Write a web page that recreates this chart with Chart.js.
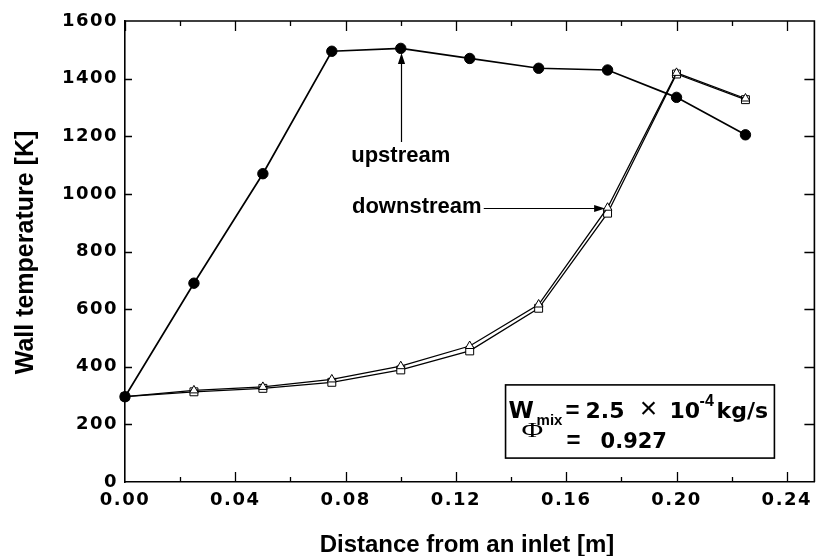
<!DOCTYPE html>
<html><head><meta charset="utf-8">
<script src="https://cdn.jsdelivr.net/npm/chart.js@4.4.0/dist/chart.umd.min.js"></script>
<style>html,body{margin:0;padding:0;background:#fff;overflow:hidden}#wrap{width:821px;height:556px}</style>
</head><body><div id="wrap"><canvas id="c" width="821" height="556"></canvas></div>
<script>
// ---- data ----
const distance = [0, 0.025, 0.05, 0.075, 0.1, 0.125, 0.15, 0.175, 0.2, 0.225];
const upstream = [296, 690, 1070, 1495, 1505, 1470, 1436, 1430, 1335, 1205];
const downstreamTri = [296, 318, 330, 356, 402, 472, 616, 952, 1420, 1331];
const downstreamSq = [296, 313, 325, 346, 389, 455, 603, 933, 1416, 1327];
const xTickValues = [0, 0.04, 0.08, 0.12, 0.16, 0.20, 0.24];
const xTickLabels = ['0.00', '0.04', '0.08', '0.12', '0.16', '0.20', '0.24'];
const yTickValues = [0, 200, 400, 600, 800, 1000, 1200, 1400, 1600];
const yTickLabels = ['0', '200', '400', '600', '800', '1000', '1200', '1400', '1600'];
const xMinorTicks = [0.02, 0.06, 0.10, 0.14, 0.18, 0.22];
const xTitle = 'Distance from an inlet [m]';
const yTitle = 'Wall temperature [K]';
// annotation anchors (data units)
const upLabel = {x: 0.1, y: 1111, text: 'upstream'};
const upArrow = {x: 0.1, y0: 1180, y1: 1489};
const downLabel = {x: 0.1293, y: 934, text: 'downstream'};
const downArrow = {y: 951, x0: 0.1301, x1: 0.1741};
const infoBox = {x0: 0.1380, x1: 0.2355, y0: 337, y1: 83};

const pts = ys => distance.map((x, i) => ({x, y: ys[i]}));
const SANS = '"Liberation Sans", Arial, Helvetica, sans-serif';
const WIDE = '"DejaVu Sans", "Liberation Sans", sans-serif';

function arrowHead(ctx, x, y, ang) {
  const L = 11, W = 3.6;
  ctx.beginPath();
  ctx.moveTo(x, y);
  ctx.lineTo(x - L * Math.cos(ang) + W * Math.sin(ang), y - L * Math.sin(ang) - W * Math.cos(ang));
  ctx.lineTo(x - L * Math.cos(ang) - W * Math.sin(ang), y - L * Math.sin(ang) + W * Math.cos(ang));
  ctx.closePath();
  ctx.fill();
}

const decor = {
  id: 'decor',
  beforeDraw(chart) { chart.ctx.letterSpacing = '1.5px'; },
  beforeDatasetsDraw(chart) { chart.ctx.letterSpacing = '0px'; },
  afterDraw(chart) {
    const ctx = chart.ctx, xs = chart.scales.x, ys = chart.scales.y, a = chart.chartArea;
    ctx.save();
    ctx.letterSpacing = '0px';
    ctx.strokeStyle = '#000'; ctx.fillStyle = '#000';
    ctx.lineWidth = 1.6;
    ctx.beginPath();
    ctx.moveTo(a.left, a.top); ctx.lineTo(a.right, a.top); ctx.lineTo(a.right, a.bottom);
    ctx.stroke();
    ctx.lineWidth = 1.3;
    ctx.beginPath();
    xTickValues.forEach(v => {
      const px = Math.round(xs.getPixelForValue(v)) + 0.5;
      if (v > 0) { ctx.moveTo(px, a.bottom); ctx.lineTo(px, a.bottom - 10); }
      ctx.moveTo(px, a.top); ctx.lineTo(px, a.top + 10);
    });
    xMinorTicks.forEach(v => {
      const px = Math.round(xs.getPixelForValue(v)) + 0.5;
      ctx.moveTo(px, a.bottom); ctx.lineTo(px, a.bottom - 5);
      ctx.moveTo(px, a.top); ctx.lineTo(px, a.top + 5);
    });
    yTickValues.forEach(v => {
      if (v === 0 || v === 1600) return;
      const py = Math.round(ys.getPixelForValue(v)) + 0.5;
      ctx.moveTo(a.left, py); ctx.lineTo(a.left + 7, py);
      ctx.moveTo(a.right, py); ctx.lineTo(a.right - 10, py);
    });
    ctx.stroke();

    // axis titles
    ctx.font = 'bold 24px ' + SANS;
    ctx.textAlign = 'center'; ctx.textBaseline = 'alphabetic';
    ctx.fillText(xTitle, 467, 552);
    ctx.save();
    ctx.translate(33, 252.5); ctx.rotate(-Math.PI / 2);
    ctx.font = 'bold 25px ' + SANS;
    ctx.fillText(yTitle, 0, 0);
    ctx.restore();

    // annotations
    ctx.font = 'bold 22px ' + SANS;
    ctx.textAlign = 'center';
    ctx.fillText(upLabel.text, xs.getPixelForValue(upLabel.x), ys.getPixelForValue(upLabel.y));
    ctx.textAlign = 'right';
    ctx.fillText(downLabel.text, xs.getPixelForValue(downLabel.x), ys.getPixelForValue(downLabel.y));
    ctx.lineWidth = 1.2;
    const ux = Math.round(xs.getPixelForValue(upArrow.x)) + 0.5;
    const uy0 = ys.getPixelForValue(upArrow.y0), uy1 = ys.getPixelForValue(upArrow.y1);
    ctx.beginPath(); ctx.moveTo(ux, uy0); ctx.lineTo(ux, uy1 + 8); ctx.stroke();
    arrowHead(ctx, ux, uy1, -Math.PI / 2);
    const dy = Math.round(ys.getPixelForValue(downArrow.y)) + 0.5;
    const dx0 = xs.getPixelForValue(downArrow.x0), dx1 = xs.getPixelForValue(downArrow.x1);
    ctx.beginPath(); ctx.moveTo(dx0, dy); ctx.lineTo(dx1 - 8, dy); ctx.stroke();
    arrowHead(ctx, dx1, dy, 0);

    // info box
    const bx0 = xs.getPixelForValue(infoBox.x0), bx1 = xs.getPixelForValue(infoBox.x1);
    const by0 = ys.getPixelForValue(infoBox.y0), by1 = ys.getPixelForValue(infoBox.y1);
    ctx.fillStyle = '#fff';
    ctx.fillRect(bx0, by0, bx1 - bx0, by1 - by0);
    ctx.fillStyle = '#000';
    ctx.lineWidth = 1.6;
    ctx.strokeRect(bx0, by0, bx1 - bx0, by1 - by0);
    ctx.textAlign = 'left';
    const t = (s, dx, dy, f) => { ctx.font = f; ctx.fillText(s, bx0 + dx, by0 + dy); };
    t('W', 3, 33, 'bold 23px ' + WIDE);
    t('mix', 31, 40, 'bold 15px ' + SANS);
    t('=', 60, 33, 'bold 24px ' + SANS);
    t('2.5', 80, 33, 'bold 22px ' + WIDE);
    ctx.textAlign = 'center';
    t('\u00d7', 143, 33, '30px ' + SANS);
    ctx.textAlign = 'left';
    t('10', 164, 33, 'bold 22px ' + WIDE);
    t('-4', 194, 21, 'bold 16px ' + SANS);
    t('kg/s', 211, 33, 'bold 22px ' + WIDE);
    ctx.save();
    ctx.translate(bx0 + 16, by0 + 52);
    ctx.scale(1.35, 1);
    ctx.font = '22px "Liberation Serif", "Times New Roman", serif';
    ctx.fillText('\u03a6', 0, 0);
    ctx.restore();
    t('=', 61, 63, 'bold 24px ' + SANS);
    t('0.927', 95, 63, 'bold 21px ' + WIDE);
    ctx.restore();
  }
};

new Chart(document.getElementById('c'), {
  type: 'line',
  data: {
    datasets: [
      {label: 'upstream', data: pts(upstream), borderColor: '#000', borderWidth: 1.7,
       pointStyle: 'circle', pointRadius: 5.2, pointBackgroundColor: '#000', pointBorderColor: '#000', pointBorderWidth: 1},
      {label: 'downstream (triangle)', data: pts(downstreamTri), borderColor: '#000', borderWidth: 1.3,
       pointStyle: 'triangle', pointRadius: 5, pointBackgroundColor: '#fff', pointBorderColor: '#000', pointBorderWidth: 1},
      {label: 'downstream (square)', data: pts(downstreamSq), borderColor: '#000', borderWidth: 1.3,
       pointStyle: 'rect', pointRadius: 5.6, pointBackgroundColor: '#fff', pointBorderColor: '#000', pointBorderWidth: 1}
    ]
  },
  options: {
    responsive: false, animation: false, devicePixelRatio: 1,
    clip: false,
    layout: {padding: {left: 0, top: 21, right: 4, bottom: 0}},
    plugins: {legend: {display: false}, tooltip: {enabled: false}},
    elements: {line: {tension: 0, fill: false}},
    scales: {
      x: {
        type: 'linear', min: 0, max: 0.25,
        grid: {display: false, drawTicks: false},
        border: {display: true, color: '#000', width: 1.6},
        afterBuildTicks: s => { s.ticks = xTickValues.map(v => ({value: v})); },
        afterFit: s => { s.height = 74; },
        ticks: {
          padding: 8, color: '#000', maxRotation: 0, autoSkip: false,
          font: {family: WIDE, size: 18, weight: 'bold'},
          callback: v => xTickLabels[xTickValues.findIndex(t => Math.abs(t - v) < 1e-9)]
        }
      },
      y: {
        type: 'linear', min: 0, max: 1600,
        grid: {display: false, drawTicks: false},
        border: {display: true, color: '#000', width: 1.6},
        afterBuildTicks: s => { s.ticks = yTickValues.map(v => ({value: v})); },
        afterFit: s => { s.width = 125; },
        ticks: {
          padding: 7, color: '#000', autoSkip: false,
          font: {family: WIDE, size: 18, weight: 'bold'},
          callback: v => yTickLabels[yTickValues.indexOf(v)]
        }
      }
    }
  },
  plugins: [decor]
});
</script></body></html>
